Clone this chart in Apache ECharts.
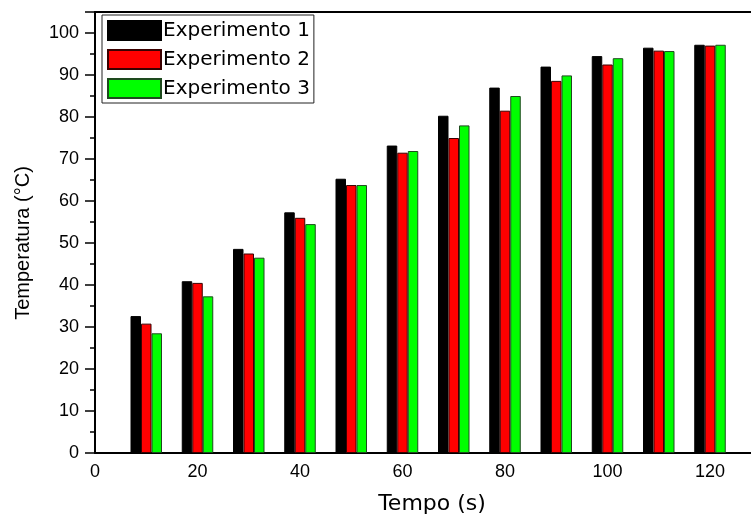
<!DOCTYPE html>
<html>
<head>
<meta charset="utf-8">
<script src="https://cdn.jsdelivr.net/npm/echarts@6/dist/echarts.min.js"></script>
<style>html,body{margin:0;padding:0;background:#fff;}#c{width:751px;height:520px;}</style>
</head>
<body>
<div id="c"></div>
<script>
var times = [10, 20, 30, 40, 50, 60, 70, 80, 90, 100, 110, 120];
var exp1 = [32.6, 40.9, 48.6, 57.3, 65.3, 73.2, 80.3, 87.0, 92.0, 94.5, 96.5, 97.2];
var exp2 = [30.8, 40.5, 47.5, 56.0, 63.8, 71.5, 75.0, 81.5, 88.6, 92.5, 95.8, 97.0];
var exp3 = [28.5, 37.3, 46.5, 54.5, 63.8, 71.9, 78.0, 85.0, 89.9, 94.0, 95.7, 97.2];
var seriesNames = ['Experimento 1', 'Experimento 2', 'Experimento 3'];
var seriesColors = ['#000000', '#ff0000', '#00ff00'];
var borderColors = ['#000000', '#3a0000', '#1e4a1e'];

function pairs(vals) { return times.map(function (t, i) { return [t, vals[i]]; }); }
var allVals = [exp1, exp2, exp3];

var chart = echarts.init(document.getElementById('c'), null, {renderer: 'canvas'});
var series = allVals.map(function (vals, k) {
  return {
    name: seriesNames[k],
    type: 'bar',
    data: pairs(vals),
    barWidth: 10.5,
    barGap: '0%',
    itemStyle: {color: seriesColors[k], borderColor: borderColors[k], borderWidth: 1},
    emphasis: {disabled: true}
  };
});

chart.setOption({
  animation: false,
  grid: {left: 95, right: 0, top: 12, bottom: 63, show: false},
  legend: {
    orient: 'vertical', left: 102, top: 15,
    padding: [5, 4, 4, 5],
    itemWidth: 53, itemHeight: 19, itemGap: 8,
    icon: 'rect',
    borderColor: '#222', borderWidth: 1,
    textStyle: {fontFamily: 'DejaVu Sans', fontSize: 20, color: '#000', lineHeight: 19, padding: [0, 0, 0, -3]},
    data: seriesNames
  },
  xAxis: [{
    type: 'value', min: 0, max: 128, interval: 20,
    name: 'Tempo (s)', nameLocation: 'middle', nameGap: 40,
    nameTextStyle: {fontFamily: 'DejaVu Sans', fontSize: 22, color: '#000', padding: [0, 0, 0, 18]},
    axisLine: {show: true, lineStyle: {color: '#000', width: 2}},
    axisTick: {show: true, inside: true, length: 7, lineStyle: {color: '#000', width: 1.5}},
    axisLabel: {fontFamily: 'Arial', fontSize: 18, color: '#000', margin: 10, showMaxLabel: false},
    splitLine: {show: false}
  }, {
    type: 'value', position: 'top', min: 0, max: 128, interval: 20,
    axisLine: {show: true, lineStyle: {color: '#000', width: 2}},
    axisTick: {show: false}, axisLabel: {show: false}, splitLine: {show: false}
  }],
  yAxis: {
    type: 'value', min: 0, max: 105, interval: 10,
    name: 'Temperatura (°C)', nameLocation: 'middle', nameGap: 62,
    nameTextStyle: {fontFamily: 'Arial', fontSize: 20, color: '#000', padding: [0, 21, 0, 0]},
    axisLine: {show: true, lineStyle: {color: '#000', width: 2}},
    axisTick: {show: true, inside: false, length: 10, lineStyle: {color: '#000', width: 1.5}},
    minorTick: {show: true, splitNumber: 2, length: 5, lineStyle: {color: '#000', width: 1.5}},
    axisLabel: {fontFamily: 'Arial', fontSize: 18, color: '#000', margin: 16, showMaxLabel: false},
    splitLine: {show: false}
  },
  series: series
});
</script>
</body>
</html>
